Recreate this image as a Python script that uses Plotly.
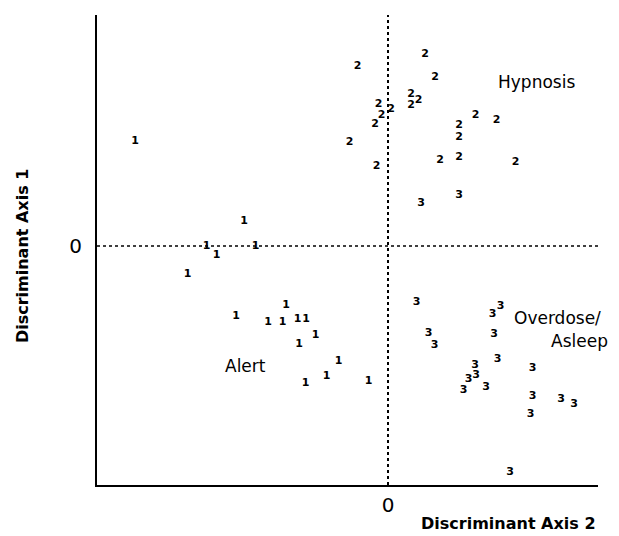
import plotly.graph_objects as go

# Discriminant scores
g1_x = [-5.06, -2.88, -3.63, -2.65, -3.43, -4.01, -3.04, -2.04, -2.40, -2.11, -1.81, -1.64, -1.45, -1.78, -0.99, -1.65, -1.23, -0.39]
g1_y = [2.10, 0.49, 0.00, 0.00, -0.18, -0.57, -1.40, -1.18, -1.52, -1.52, -1.46, -1.46, -1.79, -1.97, -2.31, -2.75, -2.61, -2.71]

g2_x = [-0.61, -0.19, 0.06, -0.13, -0.26, -0.77, -0.23, 0.74, 0.94, 0.46, 0.46, 0.61, 1.75, 2.17, 1.42, 1.42, 1.04, 1.42, 2.55]
g2_y = [3.60, 2.84, 2.74, 2.61, 2.43, 2.07, 1.60, 3.83, 3.37, 3.04, 2.82, 2.92, 2.61, 2.52, 2.42, 2.17, 1.72, 1.77, 1.67]

g3_x = [0.66, 1.42, 0.57, 2.09, 2.25, 0.81, 0.93, 2.12, 2.19, 1.74, 1.76, 1.61, 1.51, 1.96, 2.89, 2.89, 2.85, 3.46, 3.72, 2.44]
g3_y = [0.85, 1.02, -1.13, -1.36, -1.20, -1.75, -1.98, -1.77, -2.26, -2.39, -2.58, -2.67, -2.88, -2.83, -2.45, -3.01, -3.36, -3.07, -3.16, -4.53]

groups = [("1", g1_x, g1_y), ("2", g2_x, g2_y), ("3", g3_x, g3_y)]

group_labels = ["Hypnosis", "Alert", "Overdose/", "Asleep"]
label_x = [2.97, -2.86, 3.38, 3.82]
label_y = [3.29, -2.39, -1.44, -1.90]

x_range = [-5.82, 4.2]
y_range = [-4.78, 4.62]

FONT = "DejaVu Sans"

fig = go.Figure()
for code, xs, ys in groups:
    fig.add_trace(go.Scatter(
        x=xs, y=ys, mode="text", text=[code] * len(xs),
        textposition="middle center",
        textfont=dict(family=FONT, size=11, color="black", weight="bold"),
        showlegend=False, hoverinfo="skip", cliponaxis=False,
    ))

# dotted zero lines
fig.add_shape(type="line", x0=0, x1=0, y0=y_range[0], y1=y_range[1], xref="x", yref="y",
              line=dict(color="black", width=2, dash="dot"))
fig.add_shape(type="line", x0=x_range[0], x1=x_range[1], y0=0, y1=0, xref="x", yref="y",
              line=dict(color="black", width=1.5, dash="dot"))

for t, lx, ly in zip(group_labels, label_x, label_y):
    fig.add_annotation(x=lx, y=ly, text=t, showarrow=False, xref="x", yref="y",
                       xanchor="center", yanchor="middle",
                       font=dict(family=FONT, size=17, color="black"))

fig.add_annotation(x=-0.1497, y=0.487, text="<b>Discriminant Axis 1</b>", textangle=-90,
                   showarrow=False, xref="paper", yref="paper",
                   xanchor="center", yanchor="middle",
                   font=dict(family=FONT, size=16, color="black"))
fig.add_annotation(x=0.822, y=-0.081, text="<b>Discriminant Axis 2</b>",
                   showarrow=False, xref="paper", yref="paper",
                   xanchor="center", yanchor="middle",
                   font=dict(family=FONT, size=16, color="black"))

fig.update_layout(
    width=619, height=536,
    margin=dict(l=97, r=21, t=15, b=51),
    plot_bgcolor="white", paper_bgcolor="white",
    xaxis=dict(range=x_range, showgrid=False, zeroline=False, showline=True,
               linecolor="black", linewidth=2, tickvals=[0], ticktext=["0"],
               ticks="", tickfont=dict(family=FONT, size=20, color="black"),
               ticklabelstandoff=1),
    yaxis=dict(range=y_range, showgrid=False, zeroline=False, showline=True,
               linecolor="black", linewidth=2, tickvals=[0], ticktext=["0"],
               ticks="", tickfont=dict(family=FONT, size=20, color="black"),
               ticklabelstandoff=9),
)

fig.write_html("out.html")
